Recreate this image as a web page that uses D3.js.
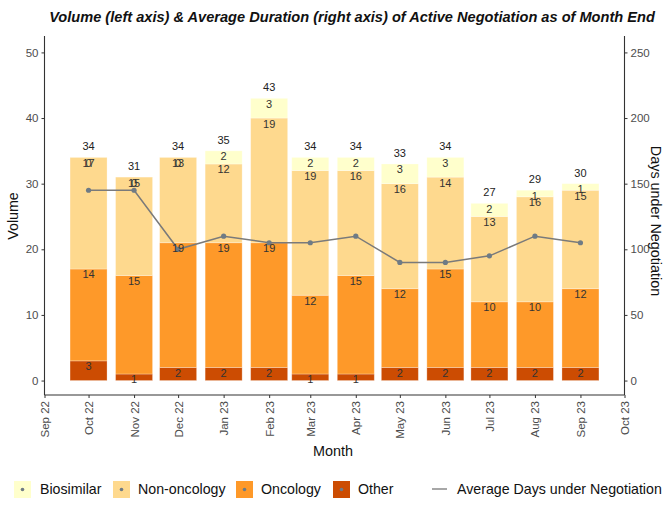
<!DOCTYPE html>
<html>
<head>
<meta charset="utf-8">
<script src="https://cdn.jsdelivr.net/npm/d3@7"></script>
<style>
  html, body { margin: 0; padding: 0; background: #fff; }
  svg { display: block; font-family: "Liberation Sans", Arial, sans-serif; }
</style>
</head>
<body>
<svg id="chart" width="665" height="505"></svg>
<script>
// ---- data ----
const months = ["2022-10-01","2022-11-01","2022-12-01","2023-01-01","2023-02-01","2023-03-01",
                "2023-04-01","2023-05-01","2023-06-01","2023-07-01","2023-08-01","2023-09-01"];
const other       = [3, 1, 2, 2, 2, 1, 1, 2, 2, 2, 2, 2];
const oncology    = [14, 15, 19, 19, 19, 12, 15, 12, 15, 10, 10, 12];
const nonOncology = [17, 15, 13, 12, 19, 19, 16, 16, 14, 13, 16, 15];
const biosimilar  = [0, 0, 0, 2, 3, 2, 2, 3, 3, 2, 1, 1];
const avgDays     = [145, 145, 100, 110, 105, 105, 110, 90, 90, 95, 110, 105];
const seriesNames = ["Other", "Oncology", "Non-oncology", "Biosimilar"];
const seriesColors = ["#CC4C02", "#FE9929", "#FED98E", "#FFFFCC"];
const leftTicks = [0, 10, 20, 30, 40, 50];
const rightTicks = [0, 50, 100, 150, 200, 250];
const xDomain = ["2022-09-01", "2023-10-01"];

const parse = d3.utcParse("%Y-%m-%d");
const rows = months.map((m, i) => ({
  date: parse(m),
  "Other": other[i], "Oncology": oncology[i],
  "Non-oncology": nonOncology[i], "Biosimilar": biosimilar[i],
  days: avgDays[i],
  total: other[i] + oncology[i] + nonOncology[i] + biosimilar[i]
}));

const svg = d3.select("#chart");
const L = 44.5, R = 624.5, T = 36, B = 395;

const x = d3.scaleUtc().domain(xDomain.map(parse)).range([L, R]);
const y = d3.scaleLinear().domain([-2.2, 52.5]).range([B, T]);
const y2 = d3.scaleLinear().domain([-11, 262.5]).range([B, T]);
const color = d3.scaleOrdinal().domain(seriesNames).range(seriesColors);

const stack = d3.stack().keys(seriesNames);
const stacked = stack(rows);
const halfW = 12.6 * 24 * 3600 * 1000;

// bars
const g = svg.append("g");
stacked.forEach(s => {
  g.append("g").selectAll("rect").data(s).join("rect")
    .attr("x", d => x(new Date(+d.data.date - halfW)))
    .attr("width", d => x(new Date(+d.data.date + halfW)) - x(new Date(+d.data.date - halfW)))
    .attr("y", d => y(d[1]))
    .attr("height", d => y(d[0]) - y(d[1]))
    .attr("fill", color(s.key))
    .attr("stroke", "#ffffff").attr("stroke-opacity", 0.35).attr("stroke-width", 0.8);
});

// line
const line = d3.line().x(d => x(d.date)).y(d => y2(d.days));
svg.append("path").datum(rows).attr("d", line)
  .attr("fill", "none").attr("stroke", "#7a7a7a").attr("stroke-width", 1.5);
svg.append("g").selectAll("circle").data(rows).join("circle")
  .attr("cx", d => x(d.date)).attr("cy", d => y2(d.days)).attr("r", 2.6)
  .attr("fill", "#6f7b85");

// segment labels
stacked.forEach(s => {
  svg.append("g").selectAll("text").data(s).join("text")
    .attr("x", d => x(d.data.date))
    .attr("y", d => y(d[1]) + 9.5)
    .attr("text-anchor", "middle")
    .attr("font-size", 11).attr("fill", "#333")
    .text(d => d.data[s.key]);
});
// totals
svg.append("g").selectAll("text").data(rows).join("text")
  .attr("x", d => x(d.date)).attr("y", d => y(d.total) - 7)
  .attr("text-anchor", "middle").attr("font-size", 11).attr("fill", "#222")
  .text(d => d.total);

// axes
const axisColor = "#333";
const tickColor = "#4d4d4d";
const yl = svg.append("g").attr("transform", `translate(${L},0)`)
  .call(d3.axisLeft(y).tickValues(leftTicks).tickSize(3).tickPadding(3));
const yr = svg.append("g").attr("transform", `translate(${R},0)`)
  .call(d3.axisRight(y2).tickValues(rightTicks).tickSize(3).tickPadding(3));
const xa = svg.append("g").attr("transform", `translate(0,${B})`)
  .call(d3.axisBottom(x).ticks(d3.utcMonth.every(1)).tickFormat(d3.utcFormat("%b %y")).tickSize(3).tickPadding(3));
[yl, yr, xa].forEach(a => {
  a.select(".domain").remove();
  a.selectAll(".tick line").attr("stroke", axisColor);
  a.selectAll(".tick text").attr("fill", tickColor).attr("font-size", 11.5)
    .attr("font-family", "'Liberation Sans', Arial, sans-serif");
});
xa.selectAll(".tick text")
  .attr("transform", "rotate(-90)")
  .attr("text-anchor", "end")
  .attr("x", -6).attr("y", 0).attr("dy", "0.35em");
// axis lines
svg.append("line").attr("x1", L).attr("x2", L).attr("y1", T).attr("y2", B).attr("stroke", axisColor).attr("stroke-width", 1.1);
svg.append("line").attr("x1", R).attr("x2", R).attr("y1", T).attr("y2", B).attr("stroke", axisColor).attr("stroke-width", 1.1);
svg.append("line").attr("x1", L).attr("x2", R).attr("y1", B).attr("y2", B).attr("stroke", axisColor).attr("stroke-width", 1.1);

// titles
svg.append("text").attr("x", 352).attr("y", 22).attr("text-anchor", "middle")
  .attr("font-size", 14.6).attr("font-weight", "bold").attr("font-style", "italic").attr("fill", "#111")
  .text("Volume (left axis) & Average Duration (right axis) of Active Negotiation as of Month End");
svg.append("text").attr("transform", "translate(18,216) rotate(-90)").attr("text-anchor", "middle")
  .attr("font-size", 14.2).attr("fill", "#111").text("Volume");
svg.append("text").attr("transform", "translate(651,221) rotate(90)").attr("text-anchor", "middle")
  .attr("font-size", 14.4).attr("fill", "#111").text("Days under Negotiation");
svg.append("text").attr("x", 333).attr("y", 456).attr("text-anchor", "middle")
  .attr("font-size", 14.4).attr("fill", "#111").text("Month");

// legend
const legY = 489;
const keyX = [14, 113, 236, 333];
const txtX = [40, 138, 261, 358];
const legOrder = ["Biosimilar", "Non-oncology", "Oncology", "Other"];
legOrder.forEach((n, i) => {
  svg.append("rect").attr("x", keyX[i]).attr("y", legY - 8).attr("width", 17).attr("height", 17)
    .attr("fill", color(n));
  svg.append("circle").attr("cx", keyX[i] + 8.5).attr("cy", legY + 0.5).attr("r", 1.8).attr("fill", "#6f7b85");
  svg.append("text").attr("x", txtX[i]).attr("y", legY + 5).attr("font-size", 14.2).attr("fill", "#111").text(n);
});
svg.append("line").attr("x1", 432).attr("x2", 447).attr("y1", legY).attr("y2", legY)
  .attr("stroke", "#8a8a8a").attr("stroke-width", 1.5);
svg.append("text").attr("x", 457).attr("y", legY + 5).attr("font-size", 14.2).attr("fill", "#111")
  .text("Average Days under Negotiation");
</script>
</body>
</html>
